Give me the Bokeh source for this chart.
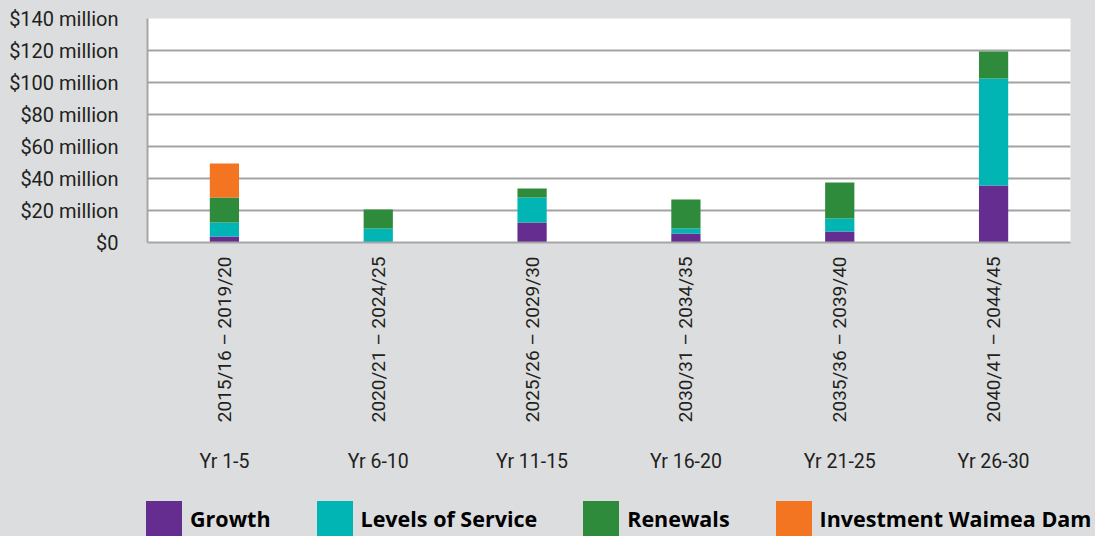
from bokeh.plotting import figure
from bokeh.layouts import column
from bokeh.models import (FactorRange, CategoricalAxis, FixedTicker, Legend, LegendItem,
                          ColumnDataSource, Range1d)
from bokeh.embed import file_html
from bokeh.resources import INLINE
from math import pi

# ---- data ----
periods = ["2015/16 – 2019/20", "2020/21 – 2024/25", "2025/26 – 2029/30",
           "2030/31 – 2034/35", "2035/36 – 2039/40", "2040/41 – 2044/45"]
year_labels = ["Yr 1-5", "Yr 6-10", "Yr 11-15", "Yr 16-20", "Yr 21-25", "Yr 26-30"]
growth = [3.8, 0.0, 12.5, 5.6, 6.9, 35.6]
levels_of_service = [8.7, 8.75, 15.6, 3.1, 8.1, 66.9]
renewals = [15.6, 11.9, 5.6, 18.1, 22.5, 16.9]
waimea_dam = [21.3, 0.0, 0.0, 0.0, 0.0, 0.0]
series_names = ["Growth", "Levels of Service", "Renewals", "Investment Waimea Dam"]
y_ticks = [0, 20, 40, 60, 80, 100, 120, 140]
y_tick_labels = ["$0", "$20 million", "$40 million", "$60 million", "$80 million",
                 "$100 million", "$120 million", "$140 million"]

colors = ["#662d91", "#00b5b4", "#2e8b3b", "#f47521"]
BG = "#dcdddf"
FONT = "Roboto"
TXT = "#231f20"

src = ColumnDataSource(dict(period=periods, g=growth, l=levels_of_service,
                            r=renewals, d=waimea_dam))
keys = ["g", "l", "r", "d"]

main = figure(width=1095, height=490, output_backend="svg", toolbar_location=None,
              x_range=FactorRange(factors=periods, range_padding=0),
              y_range=Range1d(0, 140), x_axis_location=None,
              min_border_left=147, min_border_right=25, min_border_top=18,
              min_border_bottom=248)
main.frame_align = False
main.extra_x_ranges = {"yr": FactorRange(factors=year_labels, range_padding=0)}

main.background_fill_color = "white"
main.border_fill_color = BG
main.outline_line_color = None

main.vbar_stack(keys, x="period", width=0.19, color=colors, source=src, line_color=None)

# y axis
main.yaxis.ticker = FixedTicker(ticks=y_ticks)
main.yaxis.major_label_overrides = {t: s for t, s in zip(y_ticks, y_tick_labels)}
main.yaxis.major_label_text_font = FONT
main.yaxis.major_label_text_font_size = "20px"
main.yaxis.major_label_text_color = TXT
main.yaxis.major_tick_line_color = None
main.yaxis.major_tick_out = 0
main.yaxis.major_tick_in = 0
main.yaxis.minor_tick_line_color = None
main.yaxis.axis_line_color = "#a6a6a6"
main.yaxis.axis_line_width = 2
main.yaxis.major_label_standoff = 29

main.xgrid.grid_line_color = None
main.ygrid.grid_line_color = "#a3a3a3"
main.ygrid.grid_line_width = 2

# x axis: periods (rotated)
ax1 = CategoricalAxis()
ax1.major_label_orientation = pi / 2
ax1.major_label_text_font = FONT
ax1.major_label_text_font_size = "19px"
ax1.major_label_text_color = TXT
ax1.major_tick_line_color = None
ax1.major_tick_out = 0
ax1.major_tick_in = 0
ax1.axis_line_color = "#a6a6a6"
ax1.axis_line_width = 2
ax1.major_label_standoff = 14
main.add_layout(ax1, "below")

# x axis: year labels
ax2 = CategoricalAxis(x_range_name="yr")
ax2.major_label_text_font = FONT
ax2.major_label_text_font_size = "19.5px"
ax2.major_label_text_color = TXT
ax2.major_tick_line_color = None
ax2.major_tick_out = 0
ax2.major_tick_in = 0
ax2.axis_line_color = None
ax2.major_label_standoff = 24
main.add_layout(ax2, "below")

# legend strip (its bars fall far outside its own y range, so only the legend shows)
leg = figure(width=1095, height=46, output_backend="svg", toolbar_location=None,
             x_range=FactorRange(factors=periods), y_range=Range1d(500, 501),
             x_axis_location=None, y_axis_location=None,
             min_border_left=0, min_border_right=0, min_border_top=0, min_border_bottom=0)
leg.frame_align = False
leg.background_fill_color = BG
leg.border_fill_color = BG
leg.outline_line_color = None
leg.xgrid.grid_line_color = None
leg.ygrid.grid_line_color = None
leg_rs = leg.vbar_stack(keys, x="period", width=0.19, color=colors, source=src,
                        line_color=None)

legend = Legend(items=[LegendItem(label=n, renderers=[r]) for n, r in zip(series_names, leg_rs)],
                orientation="horizontal", location=(141, -4.5),
                glyph_width=45, glyph_height=45, label_standoff=4, spacing=41,
                label_text_font="Open Sans", label_text_font_style="bold",
                label_text_font_size="21.5px", label_text_color="black",
                background_fill_alpha=0, border_line_color=None,
                margin=0, padding=0)
leg.add_layout(legend, "center")

p = column(main, leg, spacing=0, styles={"background-color": BG})

open("out.html", "w").write(file_html(p, INLINE))
